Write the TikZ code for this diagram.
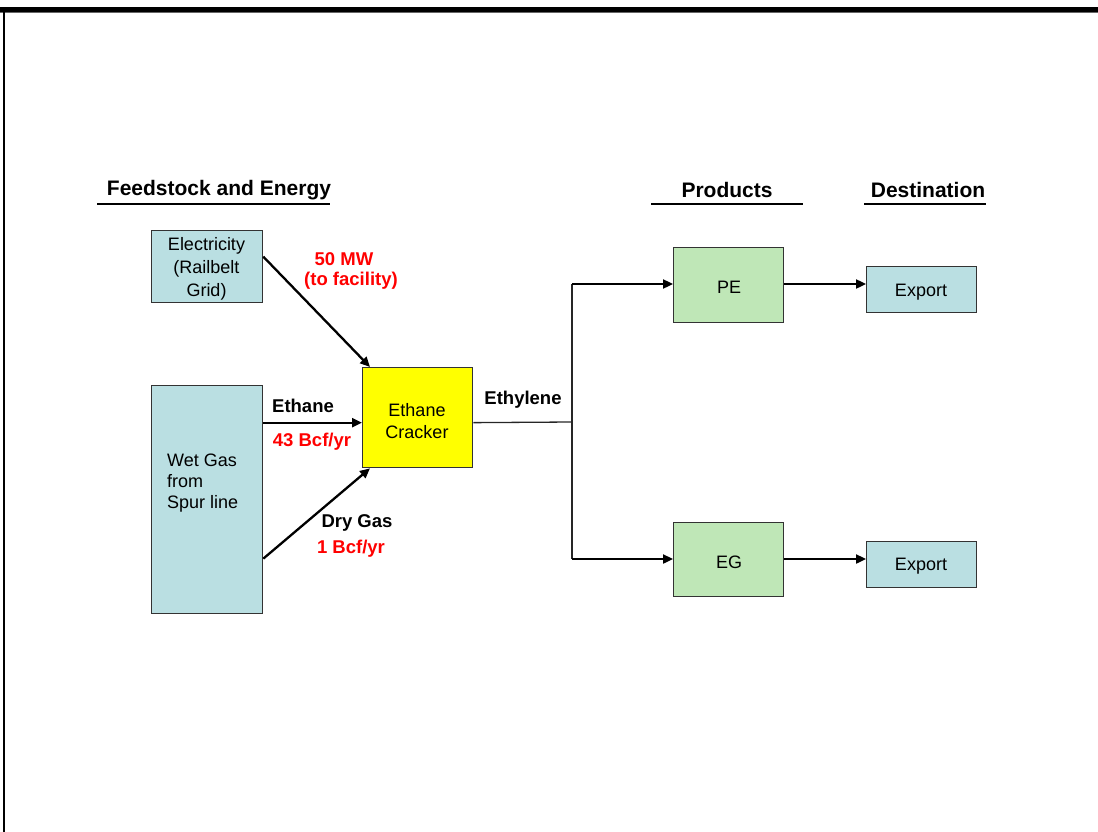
\documentclass[tikz,border=0pt]{standalone}
\usepackage{fontspec}
\setmainfont{Liberation Sans}
\usetikzlibrary{arrows.meta,calc}
\definecolor{boxblue}{RGB}{186,223,226}
\definecolor{boxgreen}{RGB}{191,231,183}
\definecolor{labred}{RGB}{255,0,0}
\definecolor{crkyellow}{RGB}{255,255,0}
\begin{document}
\begin{tikzpicture}[x=1pt,y=-1pt,
  box/.style={draw=black!80, line width=1.3pt, inner sep=0pt, anchor=north west, align=center,
    font=\fontsize{18}{22.5}\selectfont},
  bluebox/.style={box, fill=boxblue},
  greenbox/.style={box, fill=boxgreen},
  head/.style={font=\fontsize{21}{24}\selectfont\bfseries, inner sep=0pt},
  lab/.style={font=\fontsize{18.5}{22}\selectfont\bfseries, inner sep=0pt, align=center},
  redlab/.style={lab, text=labred},
  flow/.style={line width=2.3pt, -{Triangle[length=10pt,width=9pt]}},
  thinline/.style={line width=1.3pt, draw=black!85},
  uline/.style={line width=2.5pt}
]
\useasboundingbox (0,0) rectangle (1098,832);
% frame
\fill[black] (0,7) rectangle (1098,12);
\draw[line width=1pt, black!60] (0,12.5) -- (1098,12.5);
\draw[line width=1.6pt] (4,12) -- (4,832);

% headings
\node[head] (h1) at (219,190) {Feedstock and Energy};
\node[head] (h2) at (727,190) {Products};
\node[head] (h3) at (928,190) {Destination};
\draw[uline] (97,204) -- (330,204);
\draw[uline] (651,204) -- (803,204);
\draw[uline] (864,204) -- (986,204);

% boxes
\node[bluebox, minimum width=111pt, minimum height=72pt] (elec) at (151,230) {};
\node[font=\fontsize{18}{23}\selectfont, align=center, inner sep=0pt] (electext) at (206.5,269) {Electricity\\(Railbelt\\Grid)};
\node[bluebox, minimum width=111pt, minimum height=228pt] (wet) at (151,385) {};
\node[font=\fontsize{18}{21}\selectfont, align=left, anchor=west, inner sep=0pt] (wettext) at (167,483) {Wet Gas\\from\\Spur line};
\node[box, fill=crkyellow, minimum width=110pt, minimum height=100pt] (crk) at (362,367) {};
\node[font=\fontsize{18}{22}\selectfont, align=center, inner sep=0pt] (crktext) at (417,421) {Ethane\\Cracker};
\node[greenbox, minimum width=110pt, minimum height=75pt] (pe) at (673,247) {};
\node[font=\fontsize{18}{22}\selectfont, inner sep=0pt] (petext) at (729,287) {PE};
\node[greenbox, minimum width=110pt, minimum height=74pt] (eg) at (673,522) {};
\node[font=\fontsize{18}{22}\selectfont, inner sep=0pt] (egtext) at (729,562) {EG};
\node[bluebox, minimum width=110pt, minimum height=46pt] (ex1) at (866,266) {};
\node[font=\fontsize{18}{22}\selectfont, inner sep=0pt] (ex1text) at (921,292) {Export};
\node[bluebox, minimum width=110pt, minimum height=46pt] (ex2) at (866,541) {};
\node[font=\fontsize{18}{22}\selectfont, inner sep=0pt] (ex2text) at (921,566) {Export};

% labels
\node[redlab] (mw) at (344,259) {50 MW};
\node[redlab] (fac) at (351,281) {(to facility)};
\node[lab] (eth) at (303,406) {Ethane};
\node[redlab] (bcf43) at (312,442) {43 Bcf/yr};
\node[lab] (dry) at (357,523) {Dry Gas};
\node[redlab] (bcf1) at (351,549) {1 Bcf/yr};
\node[lab] (ethy) at (523,400) {Ethylene};

% connectors
\coordinate (crkin) at ($(crk.west)+(0,5)$);
\draw[flow] ($(elec.east)+(0,-10)$) -- ($(crk.north west)+(8,0)$);
\draw[flow] (wet.east |- crkin) -- (crkin);
\draw[flow] ($(wet.east)+(0,59)$) -- ($(crk.south west)+(8,0)$);
\coordinate (junc) at (572,422);
\coordinate (jtop) at (572,284);
\coordinate (jbot) at (572,559);
\draw[thinline] ($(crk.east)+(0,5)$) -- (junc);
\draw[thinline] (jtop) -- (jbot);
\draw[flow] (jtop) -- (pe.west |- jtop);
\draw[flow] (jbot) -- (eg.west |- jbot);
\draw[flow] (pe.east |- jtop) -- (ex1.west |- jtop);
\draw[flow] (eg.east |- jbot) -- (ex2.west |- jbot);
\end{tikzpicture}
\end{document}
